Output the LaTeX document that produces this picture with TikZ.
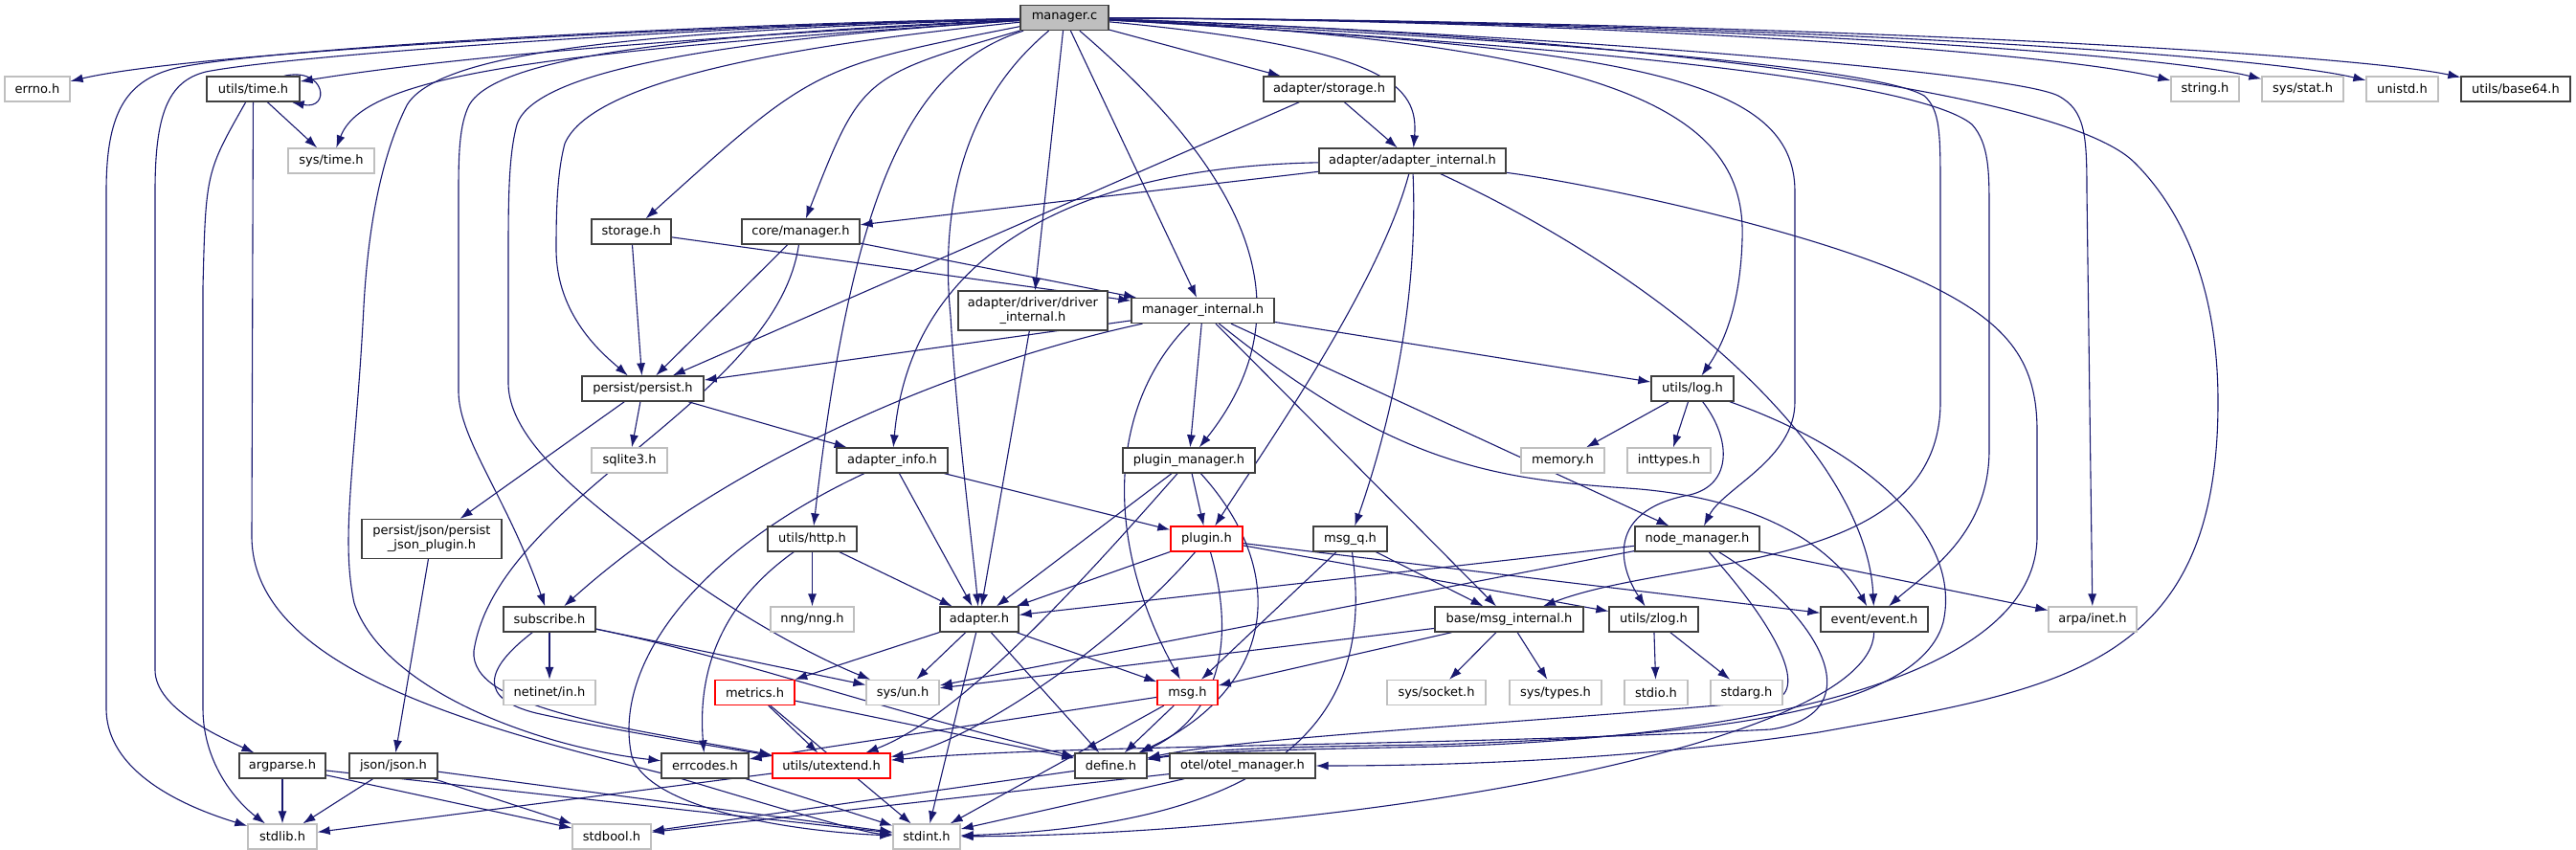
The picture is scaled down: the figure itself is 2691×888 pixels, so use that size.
\documentclass[tikz,border=0pt]{standalone}
\usepackage{fontspec}
\setmainfont{DejaVu Sans}
\usetikzlibrary{arrows.meta,backgrounds}
\definecolor{edgeblue}{HTML}{191970}
\definecolor{boxgray}{HTML}{404040}
\definecolor{extgray}{HTML}{BFBFBF}
\definecolor{rootfill}{HTML}{BFBFBF}

\begin{document}
\begin{tikzpicture}[x=1pt, y=-1pt, >={Latex[length=13pt,width=9pt]},
		hfile/.style={draw=boxgray, line width=1.3pt, fill=white, inner sep=0pt,%
			minimum height=26pt, font=\fontsize{13}{15}\selectfont},
		root/.style={hfile, fill=rootfill},
		sysfile/.style={hfile, draw=extgray},
		cutfile/.style={hfile, draw=red},
		twoline/.style={minimum height=41pt, align=center},
		dep/.style={->, draw=edgeblue, line width=1.1pt}]
	\useasboundingbox (0,0) rectangle (2691,888);

	% rows of the include graph
	\node[root, minimum width=92] (mainc) at (1112,18.5) {manager.c};
	\node[sysfile, minimum width=68] (errno) at (39,93) {errno.h};
	\node[hfile, minimum width=97] (utime) at (264.5,93) {utils/time.h};
	\node[hfile, minimum width=137] (astorage) at (1388.5,93) {adapter/storage.h};
	\node[sysfile, minimum width=71] (string) at (2303.5,93) {string.h};
	\node[sysfile, minimum width=85] (sysstat) at (2405.5,93) {sys/stat.h};
	\node[sysfile, minimum width=75] (unistd) at (2509.5,93) {unistd.h};
	\node[hfile, minimum width=114] (base64) at (2628,93) {utils/base64.h};
	\node[sysfile, minimum width=90] (systime) at (346,168) {sys/time.h};
	\node[hfile, minimum width=195] (ainternal) at (1475.5,168) {adapter/adapter\_internal.h};
	\node[hfile, minimum width=83] (storage) at (659.5,242) {storage.h};
	\node[hfile, minimum width=123] (coremgr) at (836.5,242) {core/manager.h};
	\node[hfile, twoline, minimum width=156] (drvint) at (1079,324.5) {adapter/driver/driver\\\_internal.h};
	\node[hfile, minimum width=149] (mgrint) at (1256.5,324.5) {manager\_internal.h};
	\node[hfile, minimum width=127] (persist) at (671.5,406) {persist/persist.h};
	\node[hfile, minimum width=86] (log) at (1768,406) {utils/log.h};
	\node[sysfile, minimum width=79] (sqlite) at (657.5,481) {sqlite3.h};
	\node[hfile, minimum width=116] (ainfo) at (932,481) {adapter\_info.h};
	\node[hfile, minimum width=138] (pmgr) at (1242,481) {plugin\_manager.h};
	\node[sysfile, minimum width=87] (memory) at (1632.5,481) {memory.h};
	\node[sysfile, minimum width=87] (inttypes) at (1743.5,481) {inttypes.h};
	\node[hfile, twoline, minimum width=146] (jsonplug) at (451,563) {persist/json/persist\\\_json\_plugin.h};
	\node[hfile, minimum width=93] (http) at (848.5,563) {utils/http.h};
	\node[cutfile, minimum width=75] (plugin) at (1260.5,563) {plugin.h};
	\node[hfile, minimum width=77] (msgq) at (1410.5,563) {msg\_q.h};
	\node[hfile, minimum width=130] (nodemgr) at (1773,563) {node\_manager.h};
	\node[hfile, minimum width=96] (subscribe) at (574,647) {subscribe.h};
	\node[sysfile, minimum width=87] (nng) at (848.5,647) {nng/nng.h};
	\node[hfile, minimum width=82] (adapter) at (1023,647) {adapter.h};
	\node[hfile, minimum width=155] (msgint) at (1576.5,647) {base/msg\_internal.h};
	\node[hfile, minimum width=93] (zlog) at (1727.5,647) {utils/zlog.h};
	\node[hfile, minimum width=112] (event) at (1958,647) {event/event.h};
	\node[sysfile, minimum width=92] (inet) at (2186,647) {arpa/inet.h};
	\node[sysfile, minimum width=96] (netinet) at (574,723.5) {netinet/in.h};
	\node[cutfile, minimum width=83] (metrics) at (788.5,723.5) {metrics.h};
	\node[sysfile, minimum width=76] (sysun) at (943,723.5) {sys/un.h};
	\node[cutfile, minimum width=63] (msg) at (1240.5,723.5) {msg.h};
	\node[sysfile, minimum width=103] (socket) at (1500.5,723.5) {sys/socket.h};
	\node[sysfile, minimum width=96] (types) at (1625,723.5) {sys/types.h};
	\node[sysfile, minimum width=66] (stdio) at (1730,723.5) {stdio.h};
	\node[sysfile, minimum width=75] (stdarg) at (1824.5,723.5) {stdarg.h};
	\node[hfile, minimum width=90] (argparse) at (295,800) {argparse.h};
	\node[hfile, minimum width=92] (json) at (411,800) {json/json.h};
	\node[hfile, minimum width=91] (errcodes) at (736.5,800) {errcodes.h};
	\node[cutfile, minimum width=123] (utextend) at (868.5,800) {utils/utextend.h};
	\node[hfile, minimum width=75] (define) at (1160.5,800) {define.h};
	\node[hfile, minimum width=152] (otel) at (1298,800) {otel/otel\_manager.h};
	\node[sysfile, minimum width=72] (stdlib) at (295,874) {stdlib.h};
	\node[sysfile, minimum width=82] (stdbool) at (639,874) {stdbool.h};
	\node[sysfile, minimum width=70] (stdint) at (968,874) {stdint.h};

	\begin{scope}[on background layer]
		\fill[white] (0,0) rectangle (2691,888);
		% straight includes
		\foreach \a/\b in {mainc/drvint, mainc/mgrint, mainc/astorage, utime/systime,
			astorage/ainternal, astorage/persist, ainternal/coremgr,
			storage/persist, storage/mgrint, coremgr/persist, coremgr/mgrint,
			drvint/adapter, mgrint/persist, mgrint/log,
			mgrint/pmgr, mgrint/nodemgr, mgrint/msgint, persist/sqlite,
			persist/jsonplug, persist/ainfo, log/memory, log/inttypes,
			ainfo/plugin, ainfo/adapter, pmgr/plugin, pmgr/adapter, jsonplug/json,
			http/nng, http/adapter, plugin/adapter, plugin/zlog, plugin/event,
			msgq/msgint, msgq/msg, nodemgr/adapter, nodemgr/sysun, nodemgr/inet,
			subscribe/netinet, subscribe/sysun, adapter/sysun, adapter/metrics,
			adapter/msg, adapter/define, adapter/stdint, msgint/sysun, msgint/msg,
			msgint/socket, msgint/types, zlog/stdio, zlog/stdarg,
			metrics/utextend, metrics/define, metrics/stdint, msg/define,
			msg/stdint, msg/errcodes, argparse/stdlib, argparse/stdbool,
			argparse/stdint, json/stdlib, json/stdbool, json/stdint,
			errcodes/stdint, utextend/stdlib, define/stdbool, otel/stdbool,
			otel/stdint}
		\draw[dep] (\a) -- (\b);

		% manager.c, left side
		\draw[dep] (mainc) .. controls (700,28) and (200,55) .. (errno);
		\draw[dep] (mainc) .. controls (800,35) and (500,55) .. (utime);
		\draw[dep] (mainc) .. controls (550,55) and (380,80) .. (systime);
		\draw[dep] (mainc) .. controls (700,26) and (260,52) .. (180,72)
			.. controls (130,86) and (111,120) .. (111,200) -- (111,740)
			.. controls (111,810) and (200,845) .. (stdlib);
		\draw[dep] (mainc) .. controls (720,28) and (300,58) .. (215,75)
			.. controls (175,85) and (162,120) .. (162,200) -- (162,700)
			.. controls (162,740) and (230,770) .. (argparse);
		\draw[dep] (mainc) .. controls (700,32) and (460,50) .. (425,110)
			.. controls (400,160) and (385,230) .. (380,320)
			.. controls (372,480) and (355,560) .. (370,630)
			.. controls (400,720) and (560,780) .. (errcodes);
		\draw[dep] (mainc) .. controls (750,35) and (520,55) .. (490,110)
			.. controls (480,130) and (479,160) .. (479,200) -- (479,410)
			.. controls (480,460) and (530,520) .. (subscribe);
		\draw[dep] (mainc) .. controls (780,40) and (560,70) .. (540,130)
			.. controls (532,160) and (531,200) .. (531,260) -- (531,400)
			.. controls (531,470) and (640,540) .. (700,590)
			.. controls (780,650) and (860,690) .. (sysun);
		\draw[dep] (mainc) .. controls (850,45) and (620,80) .. (590,150)
			.. controls (582,180) and (581,220) .. (581,260)
			.. controls (581,330) and (630,370) .. (persist);
		\draw[dep] (mainc) .. controls (850,70) .. (storage);
		\draw[dep] (mainc) .. controls (900,80) .. (coremgr);
		\draw[dep] (mainc) .. controls (950,70) and (890,200) .. (http);
		\draw[dep] (mainc) .. controls (990,120) and (985,250) .. (993,330)
			.. controls (1000,450) and (1015,560) .. (adapter);
		% manager.c, right side
		\draw[dep] (mainc) .. controls (1300,180) and (1370,320) .. (pmgr);
		\draw[dep] (mainc) .. controls (1450,50) and (1482,90) .. (ainternal);
		\draw[dep] (mainc) .. controls (1700,45) and (1825,120) .. (1820,250)
			.. controls (1818,320) and (1800,360) .. (log);
		\draw[dep] (mainc) .. controls (1700,50) and (1875,80) .. (1875,200) -- (1875,420)
			.. controls (1875,480) and (1800,510) .. (nodemgr);
		\draw[dep] (mainc) .. controls (1600,40) and (1960,70) .. (2010,100)
			.. controls (2027,115) and (2027,140) .. (2027,200) -- (2027,420)
			.. controls (2027,600) and (1750,580) .. (msgint);
		\draw[dep] (mainc) .. controls (1600,45) and (2000,80) .. (2060,130)
			.. controls (2078,150) and (2078,180) .. (2078,220) -- (2078,470)
			.. controls (2078,560) and (2010,600) .. (event);
		\draw[dep] (mainc) .. controls (1600,35) and (2100,75) .. (2150,100)
			.. controls (2178,115) and (2180,140) .. (2180,200) -- (inet);
		\draw[dep] (mainc) .. controls (1650,35) and (2150,90) .. (2230,170)
			.. controls (2280,220) and (2317,300) .. (2317,420)
			.. controls (2317,700) and (2150,720) .. (1900,765)
			.. controls (1700,795) and (1500,800) .. (otel);
		\draw[dep] (mainc) .. controls (1700,22) and (2150,55) .. (string);
		\draw[dep] (mainc) .. controls (1750,22) and (2250,55) .. (sysstat);
		\draw[dep] (mainc) .. controls (1800,22) and (2350,55) .. (unistd);
		\draw[dep] (mainc) .. controls (1850,22) and (2450,55) .. (base64);

		% utils/time.h
		\draw[dep] ([xshift=-17pt]utime.north east) .. controls +(44,-10) and +(41,9)
			.. ([xshift=-9pt]utime.south east);
		\draw[dep] (utime) .. controls (215,180) .. (212,300) -- (212,740)
			.. controls (212,800) and (250,840) .. (stdlib);
		\draw[dep] (utime) -- (263,560) .. controls (263,700) and (500,760) .. (700,810)
			.. controls (800,840) and (900,870) .. (stdint);

		% adapter internals
		\draw[dep] (ainternal) .. controls (1100,175) and (950,280) .. (ainfo);
		\draw[dep] (ainternal) .. controls (1440,300) and (1320,470) .. (plugin);
		\draw[dep] (ainternal) .. controls (1482,320) and (1450,450) .. (msgq);
		\draw[dep] (ainternal) .. controls (1760,300) and (1950,480) .. (event);
		\draw[dep] (ainternal) .. controls (1650,190) and (1900,240) .. (2020,300)
			.. controls (2100,340) and (2128,380) .. (2128,450) -- (2128,560)
			.. controls (2128,740) and (1700,775) .. (1500,780)
			.. controls (1350,783) and (1250,785) .. (define);
		\draw[dep] (mgrint) .. controls (1160,420) and (1150,560) .. (msg);
		\draw[dep] (mgrint) .. controls (1000,380) and (760,480) .. (subscribe);
		\draw[dep] (mgrint) .. controls (1450,480) and (1550,500) .. (1700,510)
			.. controls (1850,520) and (1920,580) .. (event);
		\draw[dep] (coremgr) .. controls (810,420) and (520,520) .. (495,680)
			.. controls (490,740) and (650,760) .. (utextend);
		\draw[dep] (subscribe) .. controls (505,700) and (500,730) .. (560,745)
			.. controls (650,765) and (750,780) .. (utextend);
		\draw[dep] (subscribe) .. controls (780,690) and (880,730) .. (define);
		\draw[dep] (http) .. controls (740,640) and (730,720) .. (errcodes);
		\draw[dep] (ainfo) .. controls (720,580) and (640,700) .. (660,790)
			.. controls (680,850) and (850,870) .. (stdint);

		% lower right
		\draw[dep] (log) .. controls (1810,460) and (1810,510) .. (1760,518)
			.. controls (1680,535) and (1690,590) .. (zlog);
		\draw[dep] (log) .. controls (1950,470) and (2050,560) .. (2030,650)
			.. controls (2000,760) and (1700,770) .. (1500,778)
			.. controls (1350,780) and (1260,782) .. (define);
		\draw[dep] (nodemgr) .. controls (1860,660) and (1890,725) .. (1850,732)
			.. controls (1600,755) and (1300,770) .. (define);
		\draw[dep] (nodemgr) .. controls (1900,640) and (1960,745) .. (1850,762)
			.. controls (1500,780) and (1100,778) .. (utextend);
		\draw[dep] (plugin) .. controls (1150,690) and (1000,780) .. (utextend);
		\draw[dep] (plugin) .. controls (1300,700) and (1250,760) .. (define);
		\draw[dep] (pmgr) .. controls (1350,600) and (1330,720) .. (define);
		\draw[dep] (pmgr) .. controls (1120,620) and (1000,750) .. (utextend);
		\draw[dep] (msgq) .. controls (1430,700) and (1400,860) .. (stdint);
		\draw[dep] (event) .. controls (1955,780) and (1400,872) .. (stdint);
	\end{scope}
\end{tikzpicture}
\end{document}
